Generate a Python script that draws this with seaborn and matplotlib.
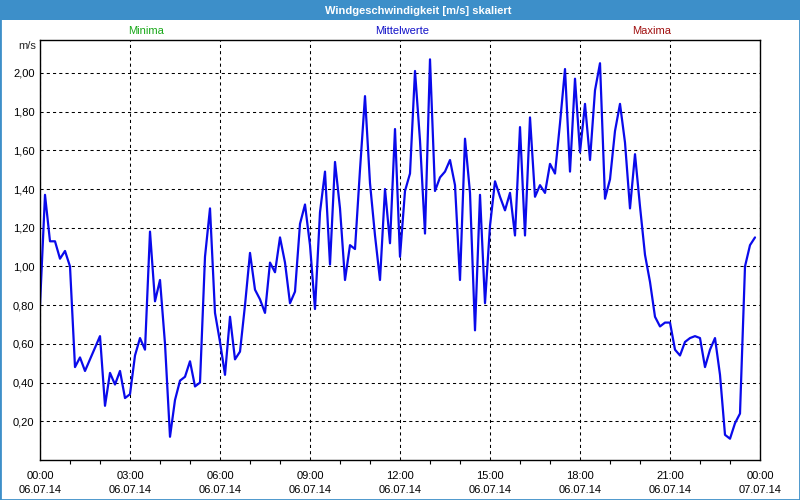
import matplotlib
matplotlib.use("Agg")
import matplotlib.pyplot as plt
import matplotlib.dates as mdates
from matplotlib.patches import Rectangle
from matplotlib.ticker import FuncFormatter, FixedLocator
import seaborn as sns
import pandas as pd

# ---- data -------------------------------------------------------------
title = "Windgeschwindigkeit [m/s] skaliert"
legend_labels = ["Minima", "Mittelwerte", "Maxima"]
unit_label = "m/s"
start_time = "2014-07-06 00:00"
end_time = "2014-07-07 00:00"
sample_interval = "10min"

# 10-minute mean wind speed [m/s], 00:00 ... 23:50
wind_speed = [
    0.80, 1.37, 1.13, 1.13, 1.04, 1.08, 1.00, 0.48, 0.53, 0.46, 0.52, 0.58,   # 00-02
    0.64, 0.28, 0.45, 0.39, 0.46, 0.32, 0.34, 0.54, 0.63, 0.57, 1.18, 0.82,   # 02-04
    0.93, 0.60, 0.12, 0.31, 0.41, 0.43, 0.51, 0.38, 0.40, 1.05, 1.30, 0.76,   # 04-06
    0.61, 0.44, 0.74, 0.52, 0.56, 0.80, 1.07, 0.88, 0.83, 0.76, 1.02, 0.97,   # 06-08
    1.15, 1.02, 0.81, 0.87, 1.22, 1.32, 1.11, 0.78, 1.28, 1.49, 1.01, 1.54,   # 08-10
    1.30, 0.93, 1.11, 1.09, 1.50, 1.88, 1.43, 1.16, 0.93, 1.40, 1.12, 1.71,   # 10-12
    1.05, 1.39, 1.48, 2.01, 1.65, 1.17, 2.07, 1.39, 1.46, 1.49, 1.55, 1.42,   # 12-14
    0.93, 1.66, 1.38, 0.67, 1.37, 0.81, 1.21, 1.44, 1.36, 1.29, 1.38, 1.16,   # 14-16
    1.72, 1.16, 1.77, 1.36, 1.42, 1.38, 1.53, 1.48, 1.74, 2.02, 1.49, 1.97,   # 16-18
    1.59, 1.84, 1.55, 1.91, 2.05, 1.35, 1.45, 1.70, 1.84, 1.64, 1.30, 1.58,   # 18-20
    1.31, 1.06, 0.92, 0.74, 0.69, 0.71, 0.71, 0.57, 0.54, 0.61, 0.63, 0.64,   # 20-22
    0.63, 0.48, 0.57, 0.63, 0.44, 0.13, 0.11, 0.19, 0.24, 1.00, 1.11, 1.15,   # 22-24
]
y_ticks = [0.2, 0.4, 0.6, 0.8, 1.0, 1.2, 1.4, 1.6, 1.8, 2.0]
y_limits = (0.0, 2.17)

# ---- style -------------------------------------------------------------
BAR_BLUE = "#3d8fc9"
LINE_BLUE = "#0a0aeb"
LEG_COLORS = ["#18a818", "#1010c8", "#a01010"]
FONT = "Liberation Sans"

sns.set_style("white")
plt.rcParams["font.family"] = [FONT, "DejaVu Sans"]
plt.rcParams["font.size"] = 8

df = pd.DataFrame({
    "time": pd.date_range(start_time, periods=len(wind_speed), freq=sample_interval),
    "speed": wind_speed,
})

fig = plt.figure(figsize=(8, 5), dpi=100, facecolor="white")
ax = fig.add_axes([40 / 800, 40 / 500, 720 / 800, 420 / 500])
ax.set_facecolor("white")

# grid first (behind the line)
ax.set_axisbelow(True)
ax.grid(True, which="major", color="black", linestyle=(0, (3, 3)), linewidth=0.75)

sns.lineplot(data=df, x="time", y="speed", ax=ax, color=LINE_BLUE,
             linewidth=1.6, legend=False)

ax.set_xlim(pd.Timestamp(start_time), pd.Timestamp(end_time))
ax.set_ylim(*y_limits)
ax.set_xlabel("")
ax.set_ylabel("")

ax.xaxis.set_major_locator(mdates.HourLocator(byhour=range(0, 24, 3)))
ax.xaxis.set_minor_locator(mdates.HourLocator())
ax.xaxis.set_major_formatter(mdates.DateFormatter("%H:%M\n%d.%m.%y"))
ax.yaxis.set_major_locator(FixedLocator(y_ticks))
ax.yaxis.set_major_formatter(FuncFormatter(lambda v, p: f"{v:.2f}".replace(".", ",")))

ax.tick_params(axis="x", which="major", length=4, width=0.8, color="black",
               direction="out", pad=4, labelsize=8, labelcolor="black")
ax.tick_params(axis="x", which="minor", length=3, width=0.8, color="black",
               direction="out", bottom=True)
ax.tick_params(axis="y", which="major", length=0, pad=4, labelsize=8,
               labelcolor="black")
for lab in ax.get_xticklabels():
    lab.set_linespacing(1.45)

for sp in ax.spines.values():
    sp.set_visible(True)
    sp.set_color("black")
    sp.set_linewidth(1.0)

# title bar
fig.patches.append(Rectangle((0, 1 - 20 / 500), 1, 20 / 500, transform=fig.transFigure,
                             facecolor=BAR_BLUE, edgecolor="none", zorder=0))
fig.text(418 / 800, 1 - 10.5 / 500, title, color="white", fontweight="bold",
         ha="center", va="center", fontsize=8)

# legend-like captions
for lab, xc, col in zip(legend_labels, [146, 402, 652], LEG_COLORS):
    fig.text(xc / 800, 1 - 31 / 500, lab, color=col, ha="center", va="center", fontsize=8)

fig.text(36 / 800, 1 - 46 / 500, unit_label, ha="right", va="center", fontsize=8)

# outer window border
fig.patches.append(Rectangle((0, 0), 1, 1, transform=fig.transFigure, fill=False,
                             edgecolor=BAR_BLUE, linewidth=2.0, zorder=5))

fig.savefig("out.png", dpi=100, facecolor="white")
